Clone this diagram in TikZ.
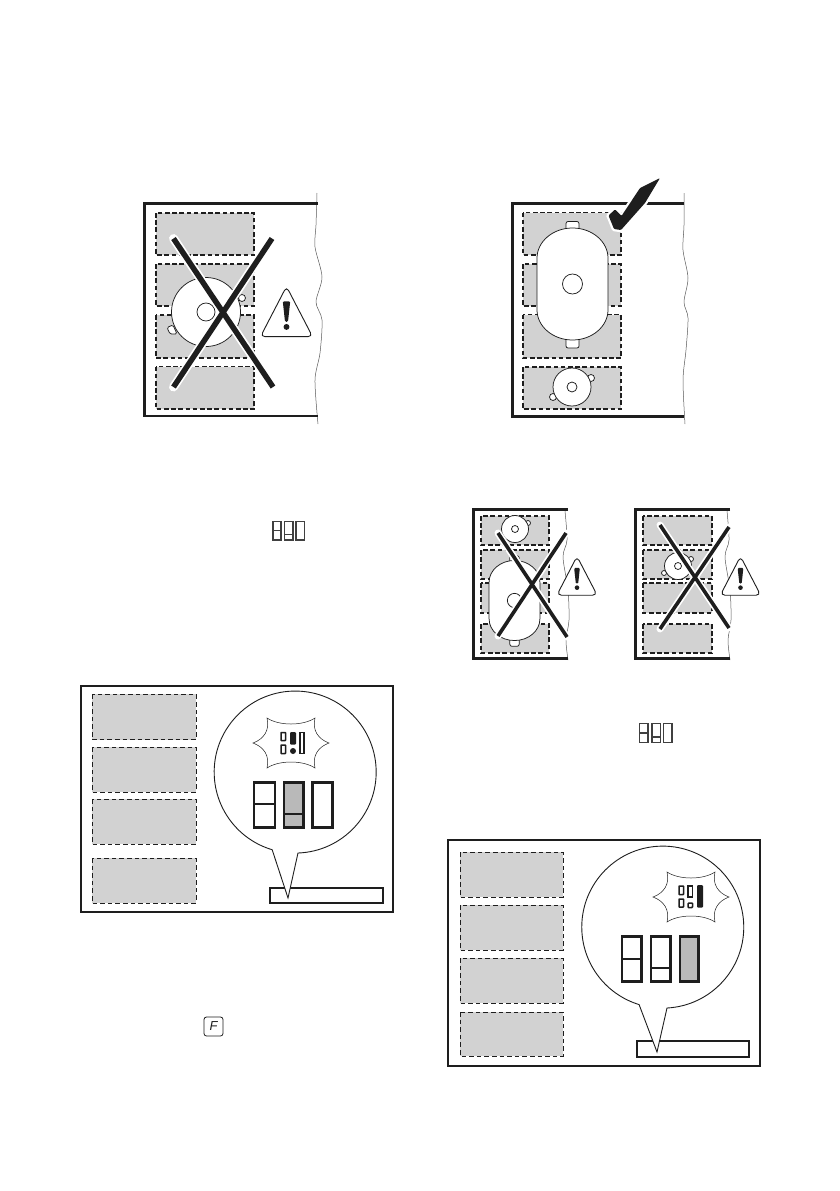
\documentclass[tikz,border=0pt]{standalone}
\usepackage{fontspec}
\setsansfont{Liberation Sans}
\definecolor{cellgray}{HTML}{D2D2D2}
\definecolor{digitgray}{HTML}{B9B9B9}
\definecolor{inkblack}{HTML}{1E1E1E}
\tikzset{
  hobframe/.style={draw=inkblack,line width=2.8pt},
  panelframe/.style={draw=inkblack,line width=1.9pt,fill=white},
  thickcell/.style={draw=inkblack,fill=cellgray,line width=1.4pt,dash pattern=on 4.6pt off 2.6pt},
  thincell/.style={draw=inkblack,fill=cellgray,line width=.8pt,dash pattern=on 4.6pt off 3pt},
  panline/.style={draw=inkblack,fill=white,line width=.75pt},
  wavy/.style={draw=black!65,line width=.5pt},
  bigdigit/.style={draw=inkblack,line width=2.8pt,fill=white},
  tinydigit/.style={draw=inkblack,line width=1.5pt,fill=white},
  barbox/.style={draw=inkblack,line width=1.4pt,fill=white},
  balloon/.style={draw=inkblack,line width=.9pt,fill=white,line join=miter},
  burst/.style={draw=inkblack,line width=.5pt,fill=white},
}
\newcommand{\crossout}[9]{%
  \draw[white,line width=#9pt+3.4pt,line cap=round] (#1,#2)--(#3,#4) (#5,#6)--(#7,#8);
  \draw[inkblack,line width=#9pt] (#1,#2)--(#3,#4) (#5,#6)--(#7,#8);
}
\newcommand{\warnsign}[3]{%
  \begin{scope}[shift={(#1,#2)},scale=#3]
    \draw[inkblack,fill=white,line width=.9pt,line join=round,rounded corners=4.5pt]
      (0,-28)--(28,26)--(-28,26)--cycle;
    \fill[inkblack,rounded corners=1.2pt] (-4,-12)--(4,-12)--(1.6,10)--(-1.6,10)--cycle;
    \fill[inkblack] (0,15.5) circle (3.2);
  \end{scope}}
\newcommand{\roundpan}[4]{%
  \draw[panline] (#1,#2) circle (#3);
  \draw[panline] (#1,#2) circle (#4);}
\newcommand{\ovalpan}[3]{%
  \begin{scope}[shift={(#1,#2)},scale=#3]
    \draw[panline,rounded corners=2pt] (-6.5,-62.5) rectangle (6.5,-50);
    \draw[panline,rounded corners=2pt] (-6.5,50) rectangle (6.5,64);
    \draw[panline] (-35.5,-26) .. controls (-35.5,-42) and (-20,-56) .. (0,-56)
      .. controls (20,-56) and (35.5,-42) .. (35.5,-26) -- (35.5,26)
      .. controls (35.5,42) and (20,56) .. (0,56)
      .. controls (-20,56) and (-35.5,42) .. (-35.5,26) -- cycle;
    \draw[panline] (0,0) circle (10);
  \end{scope}}
\newcommand{\starburst}[2]{%
  \begin{scope}[shift={(#1,#2)}]
    \draw[burst] (-24,-25) .. controls (-12,-17) and (12,-17) .. (24,-25)
      .. controls (21,-13) and (27,-4) .. (38,0)
      .. controls (27,4) and (21,13) .. (24,25)
      .. controls (12,17) and (-12,17) .. (-24,25)
      .. controls (-21,13) and (-27,4) .. (-38,0)
      .. controls (-27,-4) and (-21,-13) .. (-24,-25) -- cycle;
  \end{scope}}
\newcommand{\smallicon}[9]{%
  \draw[inkblack!85,line width=1.3pt,fill=white]
    (#1,#7) rectangle (#2,#8) (#3,#7) rectangle (#4,#8) (#5,#7) rectangle (#6,#8);
  \draw[inkblack!85,line width=1.1pt] (#1,#9) -- (#2,#9);
}
\begin{document}
\begin{tikzpicture}[x=1pt,y=-1pt]
\useasboundingbox (0,0) rectangle (839,1191);
\fill[white] (0,0) rectangle (839,1191);

%% ---- panel 1 ----
\foreach \a/\b in {213/255,264/306,315/358,366.5/409} \draw[thickcell] (156,\a) rectangle (254,\b);
\draw[wavy] plot[smooth] coordinates {(317,193)(316,225)(315,247)(322,277)(316,302)(322,320)(320,353)(315,380)(318,424)};
\draw[hobframe] (318,203.5) -- (144.5,203.5) -- (144.5,416) -- (318,416);
\draw[panline,rounded corners=1.5pt] (173,325) -- (167,327.5) -- (170,334) -- (177,334) -- cycle;
\fill[white,draw=inkblack,line width=.75pt] (242,298) circle (3.5);
\roundpan{206}{312}{34.5}{9}
\crossout{173.5}{238.5}{273}{387}{272}{238.5}{173.5}{387}{5.5}
\warnsign{286.5}{312.5}{.93}

%% ---- panel 2 ----
\foreach \a/\b in {212.5/255,264/306,314.5/358,367/409} \draw[thickcell] (523,\a) rectangle (621,\b);
\draw[wavy] plot[smooth] coordinates {(684,193)(684,225)(683,250)(688,278)(684,302)(688,318)(686,350)(683,380)(685,424)};
\draw[hobframe] (684,203.5) -- (512.5,203.5) -- (512.5,416.5) -- (684,416.5);
\ovalpan{572.5}{284}{1}
\fill[white,draw=inkblack,line width=.75pt] (591,378) circle (3.5) (553,397) circle (3.5);
\roundpan{572}{387}{19}{5}
\draw[white,fill=white,line width=4.5pt,line join=round] (608.5,215.5)--(615,209.5)--(621.5,216)--(640,188)--(660,178)--(645,203)--(621,230)--(614,229)--cycle;
\fill[inkblack,rounded corners=1pt] (608.5,215.5)--(615,209.5)--(621.5,216)--(640,188)--(660,178)--(645,203)--(621,230)--(614,229)--cycle;

%% ---- panel 3 ----
\foreach \a/\b in {516/545,550/579,583/613,624/653} \draw[thickcell] (481,\a) rectangle (549,\b);
\draw[wavy] plot[smooth] coordinates {(565,511)(567,540)(563,557)(568,590)(569,620)(566,640)(568,660)};
\draw[hobframe] (568,509.5) -- (473.5,509.5) -- (473.5,658.5) -- (568,658.5);
\fill[white,draw=inkblack,line width=.75pt] (528,523) circle (2.5);
\roundpan{515}{529}{13.5}{3.5}
\ovalpan{514.5}{600.5}{.715}
\crossout{498}{533}{567}{637}{566}{533}{498}{636}{3.6}
\warnsign{577}{576.5}{.72}

%% ---- panel 4 ----
\foreach \a/\b in {516/545,550/579,583/613,624/653} \draw[thickcell] (643,\a) rectangle (712,\b);
\draw[wavy] plot[smooth] coordinates {(727,511)(729,540)(725,557)(730,590)(731,620)(728,640)(730,660)};
\draw[hobframe] (730,509.5) -- (635.5,509.5) -- (635.5,658.5) -- (730,658.5);
\fill[white,draw=inkblack,line width=.75pt] (691,559) circle (2.5) (664,573) circle (2.5);
\roundpan{678}{566}{13.5}{3.5}
\crossout{660}{525}{729}{628}{729}{527}{660}{629}{3.6}
\warnsign{740.5}{576.5}{.72}

%% ---- inline icon 1 ----
\smallicon{273}{281}{284.5}{293}{296}{304.5}{521.5}{540}{530.5}
\draw[inkblack!85,line width=1.1pt] (284.5,534.5) -- (293,534.5);

%% ---- inline icon 2 ----
\smallicon{639.5}{648}{652}{660.5}{663.5}{672}{723.5}{742.5}{733}
\draw[inkblack!85,line width=1.1pt] (652,737) -- (660.5,737);

%% ---- F key ----
\node[draw=inkblack,line width=.8pt,rounded corners=2.5pt,minimum width=19pt,minimum height=19pt,inner sep=0pt,
  font=\sffamily\itshape\fontsize{13}{13}\selectfont,text=inkblack] (fkey) at (213.5,1026.5) {F};

%% ---- panel 5 ----
\draw[panelframe] (81,686) rectangle (393,912);
\foreach \a/\b in {694/739.5,747/792,799/844,858/903} \draw[thincell] (92,\a) rectangle (196,\b);
\draw[barbox] (270,888) rectangle (383,903);
\draw[balloon] (288,898) -- (298,853) arc[start angle=88,end angle=-253.5,radius=81] -- cycle;
\starburst{291}{743}
\draw[tinydigit,rounded corners=.5pt] (281,732.5) rectangle (285.5,740.5) (281,745) rectangle (285.5,753.5);
\fill[inkblack,rounded corners=1pt] (290,732) rectangle (296,744.5);
\fill[inkblack] (293,751) circle (3);
\draw[tinydigit] (299.8,732.5) rectangle (304.2,753.5);
\draw[bigdigit] (254,782.5) rectangle (275,827.5);
\draw[inkblack,line width=2pt] (254,804) -- (275,804);
\draw[bigdigit,fill=digitgray] (284,782.5) rectangle (303.5,827.5);
\draw[inkblack,line width=2pt] (284,814) -- (303.5,814);
\draw[bigdigit] (312.5,782.5) rectangle (332.5,827.5);

%% ---- panel 6 ----
\draw[panelframe] (448,840) rectangle (760,1066);
\foreach \a/\b in {852/897,905/950,958/1003,1012/1056} \draw[thincell] (460,\a) rectangle (563,\b);
\draw[barbox] (637,1041) rectangle (749,1057);
\draw[balloon] (657,1052) -- (667,1008) arc[start angle=87,end angle=-253,radius=81] -- cycle;
\starburst{691}{897}
\draw[tinydigit,rounded corners=.5pt] (679,886) rectangle (683.5,894.5) (679,899) rectangle (683.5,907);
\draw[tinydigit] (688,886) rectangle (692.5,897);
\draw[tinydigit,rounded corners=.8pt] (688,903) rectangle (692.5,907.5);
\fill[inkblack,rounded corners=1pt] (697,885) rectangle (703,907.5);
\draw[bigdigit] (622,936.5) rectangle (641.5,981.5);
\draw[inkblack,line width=2pt] (622,958.5) -- (641.5,958.5);
\draw[bigdigit] (651,936.5) rectangle (670.5,981.5);
\draw[inkblack,line width=2pt] (651,968) -- (670.5,968);
\draw[bigdigit,fill=digitgray] (680,936.5) rectangle (698.5,981.5);
\end{tikzpicture}
\end{document}
